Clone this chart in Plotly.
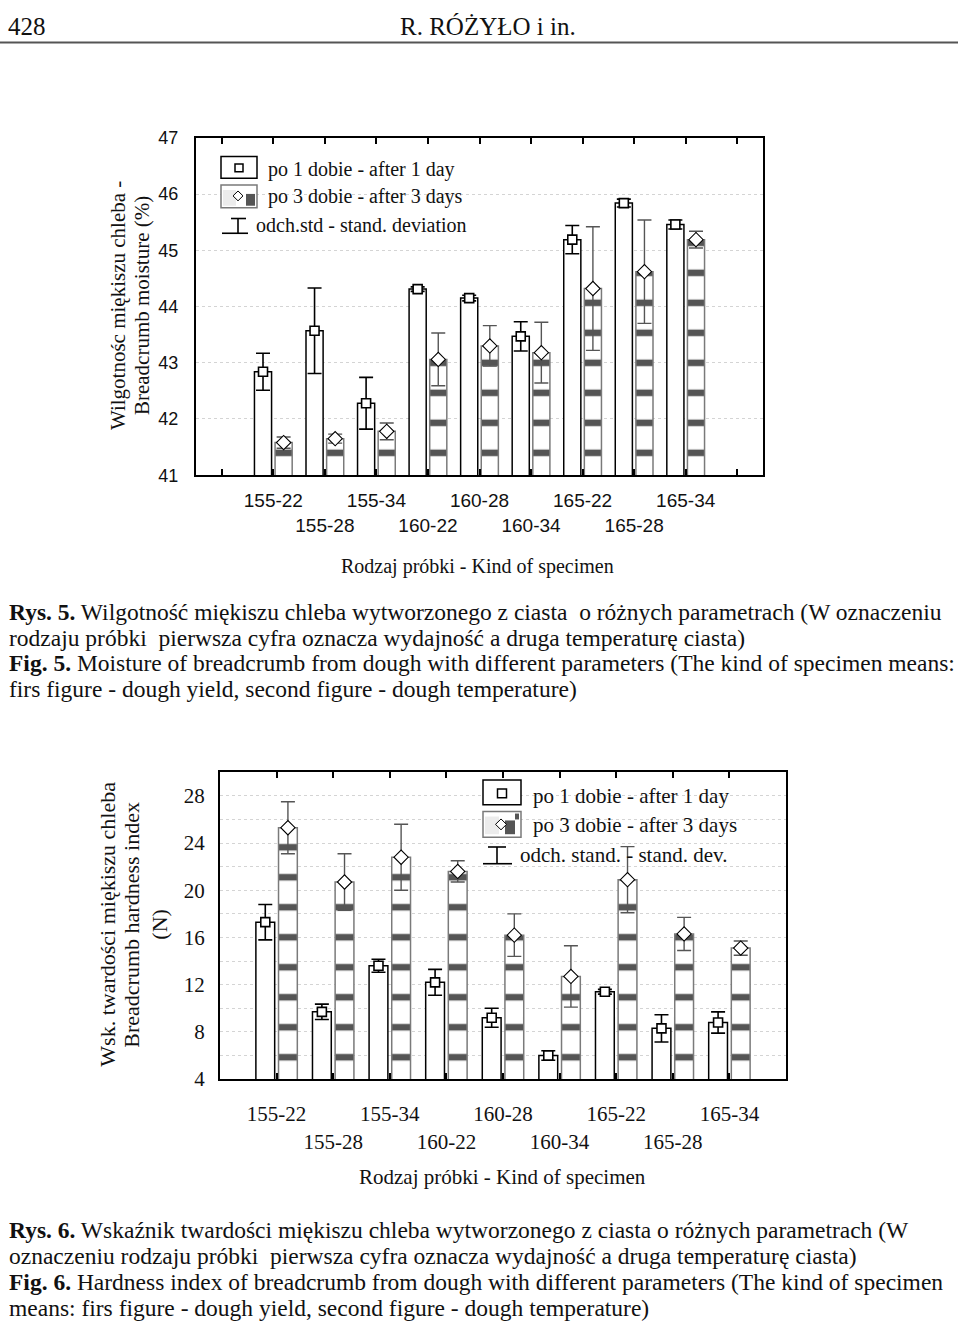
import plotly.graph_objects as go

W, H = 960, 1337


def fx(p):
    return p / W


def fy(p):
    return 1 - p / H


# ---------------- data ----------------
specimens = ["155-22", "155-28", "155-34", "160-22", "160-28",
             "160-34", "165-22", "165-28", "165-34"]

moist_day1 = [42.84, 43.57, 42.28, 44.31, 44.15, 43.47, 45.19, 45.84, 45.46]
moist_day1_sd = [0.33, 0.76, 0.46, 0.04, 0.05, 0.26, 0.25, 0.07, 0.08]
moist_day3 = [41.58, 41.65, 41.78, 43.06, 43.30, 43.18, 44.32, 44.62, 45.19]
moist_day3_sd = [0.10, 0.08, 0.15, 0.47, 0.36, 0.54, 1.10, 0.92, 0.15]

hard_day1 = [17.3, 9.7, 13.6, 12.2, 9.2, 6.0, 11.4, 8.3, 8.8]
hard_day1_sd = [1.5, 0.65, 0.55, 1.1, 0.8, 0.4, 0.2, 1.15, 0.9]
hard_day3 = [25.3, 20.7, 22.8, 21.6, 16.2, 12.7, 20.9, 16.3, 15.1]
hard_day3_sd = [2.2, 2.4, 2.8, 0.9, 1.8, 2.6, 2.8, 1.4, 0.6]

idx = list(range(len(specimens)))
BARGAP = 0.2
GROUPGAP = 0.17
half = (1 - BARGAP) / 4
x_day1 = [i - half for i in idx]
x_day3 = [i + half for i in idx]
tick_text = [s if i % 2 == 0 else "<br>" + s for i, s in enumerate(specimens)]
edge_vals = [idx[0] - 1] + idx + [idx[-1] + 1]
edge_text = [""] + tick_text + [""]

SERIF = "Liberation Serif"
SANS = "Liberation Sans"
GRID = "#d4d4d4"
PAT_LINE = "#7a7a7a"

fig = go.Figure()


def add_chart(xa, ya, d1, s1, d3, s3):
    fig.add_trace(go.Bar(
        x=idx, y=d1, xaxis=xa, yaxis=ya, offsetgroup="a",
        marker=dict(color="white", line=dict(color="black", width=1.5)),
        hoverinfo="skip"))
    fig.add_trace(go.Bar(
        x=idx, y=d3, xaxis=xa, yaxis=ya, offsetgroup="b",
        marker=dict(color="white", line=dict(color=PAT_LINE, width=1.5),
                    pattern=dict(shape="-", fgcolor="#555555", bgcolor="white",
                                 fgopacity=1, size=30, solidity=0.22)),
        hoverinfo="skip"))
    fig.add_trace(go.Scatter(
        x=x_day1, y=d1, xaxis=xa, yaxis=ya, mode="markers",
        marker=dict(symbol="square", size=9, color="white",
                    line=dict(color="black", width=1.6)),
        error_y=dict(type="data", array=s1, color="black", thickness=1.6, width=7)))
    fig.add_trace(go.Scatter(
        x=x_day3, y=d3, xaxis=xa, yaxis=ya, mode="markers",
        marker=dict(symbol="diamond", size=11, color="white",
                    line=dict(color="black", width=1.1)),
        error_y=dict(type="data", array=s3, color="#555555", thickness=1.4, width=7)))


add_chart("x", "y", moist_day1, moist_day1_sd, moist_day3, moist_day3_sd)
add_chart("x2", "y2", hard_day1, hard_day1_sd, hard_day3, hard_day3_sd)

axis_common = dict(showline=True, linecolor="black", linewidth=2, zeroline=False)

layout = dict(
    width=W, height=H, margin=dict(l=0, r=0, t=0, b=0),
    paper_bgcolor="white", plot_bgcolor="white",
    barmode="group", bargap=BARGAP, bargroupgap=GROUPGAP,
    showlegend=False,
    font=dict(family=SERIF, color="black"),
    xaxis=dict(domain=[fx(196), fx(763)], anchor="y", range=[-1.5, 9.5],
               tickmode="array", tickvals=edge_vals, ticktext=edge_text,
               tickangle=0,
               ticks="inside", ticklen=6, tickwidth=1.5, tickcolor="black",
               mirror="ticks", showgrid=False, ticklabelstandoff=7,
               tickfont=dict(family=SANS, size=19, color="#111"), **axis_common),
    yaxis=dict(domain=[fy(473), fy(130)], anchor="x", range=[41, 47], dtick=1,
               ticks="", mirror=True, showgrid=True, gridcolor=GRID, griddash="dot",
               ticklabelstandoff=12,
               tickfont=dict(family=SANS, size=18, color="#111"), **axis_common),
    yaxis3=dict(overlaying="y", anchor="x", side="right", range=[41, 47], dtick=1,
                ticks="inside", ticklen=6, tickwidth=1.5, tickcolor="black",
                showticklabels=False, showgrid=False, zeroline=False, showline=False),
    xaxis2=dict(domain=[fx(220), fx(786)], anchor="y2", range=[-1, 9],
                tickmode="array", tickvals=idx, ticktext=tick_text,
                tickangle=0,
                ticks="inside", ticklen=6, tickwidth=1.5, tickcolor="black",
                mirror="ticks", showgrid=False, ticklabelstandoff=15,
                tickfont=dict(family=SERIF, size=21, color="#111"), **axis_common),
    yaxis2=dict(domain=[fy(1087), fy(775)], anchor="x2", range=[4, 30],
                tick0=4, dtick=4, ticks="", mirror=True,
                showgrid=True, gridcolor=GRID, griddash="dot",
                minor=dict(dtick=2, tick0=4, showgrid=True, gridcolor=GRID, griddash="dot"),
                ticklabelstandoff=9,
                tickfont=dict(family=SERIF, size=21, color="#111"), **axis_common),
    yaxis4=dict(overlaying="y2", anchor="x2", side="right", range=[4, 30],
                tick0=4, dtick=2, ticks="inside", ticklen=6, tickwidth=1.5,
                tickcolor="black", showticklabels=False, showgrid=False,
                zeroline=False, showline=False),
)
fig.update_layout(**layout)

ann = []


def text(x, y, s, size, anchor="left", family=SERIF, angle=0, color="#111"):
    ann.append(dict(x=fx(x), y=fy(y), xref="paper", yref="paper", text=s,
                    showarrow=False, xanchor=anchor, yanchor="middle",
                    textangle=angle, font=dict(family=family, size=size, color=color)))


# header
text(6, 17, "428", 25)
text(488, 17, "R. RÓŻYŁO i in.", 25, anchor="center")

# chart 1 texts
text(118, 301, "Wilgotnośc miękiszu chleba -", 21, anchor="center", angle=-90)
text(142, 301, "Breadcrumb moisture (%)", 21, anchor="center", angle=-90)
text(477, 566, "Rodzaj próbki - Kind of specimen", 20, anchor="center")
text(266, 162, "po 1 dobie - after 1 day", 20)
text(266, 190, "po 3 dobie - after 3 days", 20)
text(254, 219, "odch.std - stand. deviation", 20)

# chart 2 texts
text(108, 930, "Wsk. twardości miękiszu chleba", 22, anchor="center", angle=-90)
text(132, 930, "Breadcrumb hardness index", 22, anchor="center", angle=-90)
text(160, 930, "(N)", 22, anchor="center", angle=-90)
text(502, 1187, "Rodzaj próbki - Kind of specimen", 21, anchor="center")
text(531, 799, "po 1 dobie - after 1 day", 21)
text(531, 829, "po 3 dobie - after 3 days", 21)
text(518, 859, "odch. stand. - stand. dev.", 21)

# captions
cap5 = [
    "<b>Rys. 5.</b> Wilgotność miękiszu chleba wytworzonego z ciasta  o różnych parametrach (W oznaczeniu",
    "rodzaju próbki  pierwsza cyfra oznacza wydajność a druga temperaturę ciasta)",
    "<b>Fig. 5.</b> Moisture of breadcrumb from dough with different parameters (The kind of specimen means:",
    "firs figure - dough yield, second figure - dough temperature)",
]
cap6 = [
    "<b>Rys. 6.</b> Wskaźnik twardości miękiszu chleba wytworzonego z ciasta o różnych parametrach (W",
    "oznaczeniu rodzaju próbki  pierwsza cyfra oznacza wydajność a druga temperaturę ciasta)",
    "<b>Fig. 6.</b> Hardness index of breadcrumb from dough with different parameters (The kind of specimen",
    "means: firs figure - dough yield, second figure - dough temperature)",
]
for i, line in enumerate(cap5):
    text(7, 612 + i * 26.2, line, 23.5)
for i, line in enumerate(cap6):
    text(7, 1240 + i * 26.6, line, 23.5)

fig.update_layout(annotations=ann)

shapes = []


def rect(x0, y0, x1, y1, line="black", width=1.5, fill="white"):
    shapes.append(dict(type="rect", xref="paper", yref="paper",
                       x0=fx(x0), x1=fx(x1), y0=fy(y1), y1=fy(y0),
                       line=dict(color=line, width=width), fillcolor=fill))


def seg(x0, y0, x1, y1, color="black", width=1.6):
    shapes.append(dict(type="line", xref="paper", yref="paper",
                       x0=fx(x0), x1=fx(x1), y0=fy(y0), y1=fy(y1),
                       line=dict(color=color, width=width)))


def diamond(cx, cy, r):
    shapes.append(dict(type="path", xref="paper", yref="paper",
                       path=(f"M {fx(cx)},{fy(cy - r)} L {fx(cx + r)},{fy(cy)} "
                             f"L {fx(cx)},{fy(cy + r)} L {fx(cx - r)},{fy(cy)} Z"),
                       line=dict(color="black", width=1), fillcolor="white"))


# header rule
seg(0, 33, 958, 33, color="#555", width=2)

# legend chart 1
rect(221, 149, 257, 171)
rect(235, 156.5, 243, 164.5)
rect(221, 178, 257, 201, line=PAT_LINE)
rect(223, 183, 236, 199, line="rgba(0,0,0,0)", width=0, fill="#ececec")
rect(246, 187, 255, 199, line="rgba(0,0,0,0)", width=0, fill="#555")
diamond(238, 189, 5)
seg(231, 212, 246, 212)
seg(238, 212, 238, 227)
seg(222, 227, 248, 227)

# legend chart 2
rect(483, 783, 521, 808)
rect(497.5, 792, 506.5, 801)
rect(483, 815, 521, 841, line=PAT_LINE)
rect(485, 820, 499, 838, line="rgba(0,0,0,0)", width=0, fill="#ececec")
rect(505, 824, 515, 838, line="rgba(0,0,0,0)", width=0, fill="#555")
rect(515, 817, 519, 823, line="rgba(0,0,0,0)", width=0, fill="#555")
diamond(501, 828, 5.5)
seg(488, 851, 506, 851)
seg(497, 851, 497, 868)
seg(483, 868, 512, 868)

fig.update_layout(shapes=shapes)

fig.write_html("out.html")
